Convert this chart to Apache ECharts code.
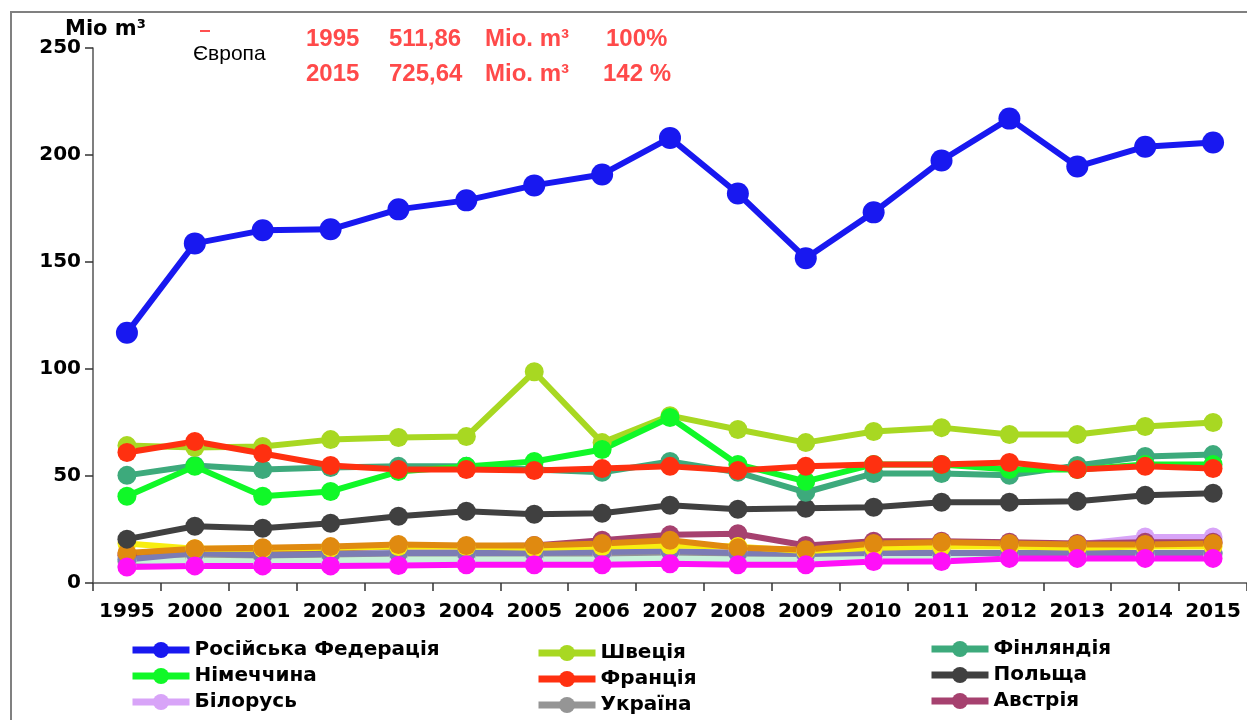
<!DOCTYPE html>
<html>
<head>
<meta charset="utf-8">
<script src="https://cdn.jsdelivr.net/npm/echarts@6/dist/echarts.min.js"></script>
<style>html,body{margin:0;padding:0;background:#fff;}#c{width:1247px;height:720px;}</style>
</head>
<body>
<div id="c"></div>
<script>
const years = ['1995','2000','2001','2002','2003','2004','2005','2006','2007','2008','2009','2010','2011','2012','2013','2014','2015'];
const yTicks = [0, 50, 100, 150, 200, 250];

const russia  = [116.9,158.7,164.8,165.3,174.6,178.8,185.8,190.9,208,182,151.8,173.2,197.4,217,194.6,203.9,205.8];
const sweden  = [64.2,63.3,63.8,67,68,68.4,98.7,65.6,78.2,71.7,65.6,70.8,72.6,69.4,69.4,73.1,75];
const germany = [40.5,54.5,40.5,42.8,52.1,54.5,56.8,62.4,77.3,55.4,47.5,55.4,55.4,53,53,55.4,55.4];
const france  = [61,66.1,60.5,54.9,53,53,52.6,53.5,54.5,52.6,54.5,55.4,55.4,56.3,53,54.5,53.5];
const finland = [50.3,54.9,53,54,54.5,54.5,53,51.7,56.8,51.7,42.4,51.2,51.2,50.3,54.9,59.1,60];
const poland  = [20.5,26.5,25.6,27.9,31.2,33.5,32.1,32.6,36.3,34.5,34.9,35.4,37.7,37.7,38.2,41,41.9];
const austria = [13,15,15,16,17,17,17.5,20,22.5,23,17.5,19.5,19.5,19,18.5,19,19];
const belarus = [8,9,9,10,11,12,12,13,14,15,15,16,17,18,18,21.5,21.5];
const ukraine = [10,12,12,12.5,13,13,13,13.5,14,13.5,13,13.5,13.5,14,14,14,14];
const mint    = [10.5,10.5,10,10.5,11,11,11,11,11.5,11,11,12,12,12.5,12.5,13,13];
const slate   = [11,14,13,13.5,14,14,14,14.5,15,14,13.5,14,14,14,14,14,14];
const yellow  = [18.5,16,16,16.5,17,17,16.5,17,17.5,17,15,16.5,17,17,16.5,17,17];
const orange  = [14,16,16.5,17,18,17.5,17.5,18.5,20,16.5,15.5,18.5,19,18.5,18,18,18.5];
const magenta = [7.5,8,8,8,8.2,8.5,8.5,8.5,9,8.5,8.5,10,10,11.5,11.5,11.5,11.5];

const legend1 = ['Російська Федерація','Німеччина','Білорусь'];
const legend2 = ['Швеція','Франція','Україна'];
const legend3 = ['Фінляндія','Польща','Австрія'];

function s(name, data, color, w, size) {
  return {
    name: name, type: 'line', data: data,
    symbol: 'circle', symbolSize: size || 19,
    lineStyle: {color: color, width: w || 6},
    itemStyle: {color: color},
    emphasis: {disabled: true},
    animation: false
  };
}

const series = [
  s('Білорусь', belarus, '#d8a4f8'),
  s('Україна', ukraine, '#959595'),
  s('Австрія', austria, '#a6416f'),
  s('m1', mint, '#c8f2da'),
  s('m2', slate, '#7c7cb4'),
  s('m3', yellow, '#f8ee10'),
  s('m4', orange, '#e08a10'),
  s('m5', magenta, '#ff10f8'),
  s('Польща', poland, '#404040'),
  s('Фінляндія', finland, '#3daa7c'),
  s('Швеція', sweden, '#a8d822'),
  s('Німеччина', germany, '#10f828'),
  s('Франція', france, '#ff3010'),
  s('Російська Федерація', russia, '#1818f0', 6, 22)
];

const legendText = {fontFamily: 'DejaVu Sans', fontWeight: 'bold', fontSize: 20, color: '#000'};
function lg(data, left, top) {
  return {data: data, orient: 'vertical', left: left, top: top, itemWidth: 57, itemHeight: 20,
    itemGap: 6, textStyle: legendText, selectedMode: false, padding: 0,
    lineStyle: {width: 7}};
}

const red = '#ff4a4a';
function rt(text, left, top) {
  return {type: 'text', left: left, top: top, style: {text: text, fontFamily: 'Liberation Sans', fontWeight: 'bold', fontSize: 24, fill: red}};
}

const chart = echarts.init(document.getElementById('c'));
chart.setOption({
  animation: false,
  backgroundColor: '#fff',
  grid: {left: 93, right: 0, top: 48, bottom: 137, containLabel: false},
  xAxis: {
    type: 'category', data: years, boundaryGap: true,
    axisLine: {lineStyle: {color: '#555', width: 1.5}},
    axisTick: {show: true, length: 8, lineStyle: {color: '#333', width: 1.5}},
    axisLabel: {fontFamily: 'DejaVu Sans', fontWeight: 'bold', fontSize: 20, color: '#000', margin: 19, interval: 0}
  },
  yAxis: {
    type: 'value', min: 0, max: 250, interval: 50,
    axisLine: {show: true, lineStyle: {color: '#555', width: 1.5}},
    axisTick: {show: true, length: 8, lineStyle: {color: '#333', width: 1.5}},
    splitLine: {show: false},
    axisLabel: {fontFamily: 'DejaVu Sans', fontWeight: 'bold', fontSize: 20, color: '#000', margin: 12,
      formatter: function (v) { return yTicks.indexOf(v) >= 0 ? String(v) : ''; }}
  },
  legend: [lg(legend1, 129, 640), lg(legend2, 535, 643), lg(legend3, 928, 639)],
  graphic: [
    {type: 'rect', shape: {x: 11, y: 12, width: 1400, height: 900}, style: {fill: 'none', stroke: '#808080', lineWidth: 2}, silent: true},
    {type: 'text', left: 65, top: 19, style: {text: 'Mio m³', fontFamily: 'DejaVu Sans', fontWeight: 'bold', fontSize: 21, fill: '#000'}},
    {type: 'rect', shape: {x: 200, y: 30, width: 10, height: 2}, style: {fill: '#ff5050'}},
    {type: 'text', left: 193, top: 44, style: {text: 'Європа', fontFamily: 'Liberation Sans', fontSize: 21, fill: '#000'}},
    rt('1995', 306, 27), rt('511,86', 389, 27), rt('Mio. m³', 485, 27), rt('100%', 606, 27),
    rt('2015', 306, 62), rt('725,64', 389, 62), rt('Mio. m³', 485, 62), rt('142 %', 603, 62)
  ],
  series: series
});
</script>
</body>
</html>
